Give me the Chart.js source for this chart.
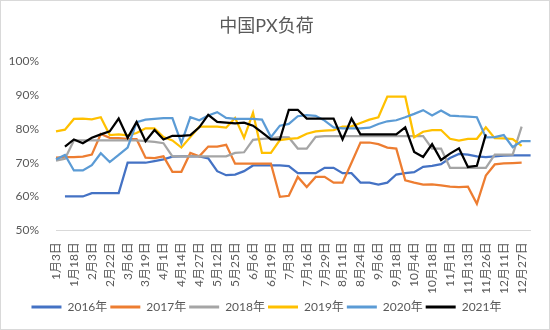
<!DOCTYPE html>
<html>
<head>
<meta charset="utf-8">
<script src="https://cdn.jsdelivr.net/npm/chart.js@4.4.0/dist/chart.umd.min.js"></script>
<style>
  body { margin: 0; background: #fff; }
  #wrap { width: 550px; height: 330px; box-sizing: border-box; border: 1px solid #d9d9d9; }
</style>
</head>
<body>
<div id="wrap"><canvas id="px-chart"></canvas></div>
<script>
// tick labels shown under the axis, one for every second week
var dateLabels = ['1月3日', '1月18日', '2月3日', '2月22日', '3月6日', '3月19日', '4月1日', '4月14日', '4月27日',
  '5月12日', '5月25日', '6月6日', '6月19日', '7月3日', '7月16日', '7月29日', '8月11日', '8月24日',
  '9月6日', '9月18日', '10月4日', '10月18日', '11月1日', '11月13日', '11月26日', '12月11日', '12月27日'];
var weekCount = 54;

var years = ['2016年', '2017年', '2018年', '2019年', '2020年', '2021年'];
var yearColors = ['#4472C4', '#ED7D31', '#A5A5A5', '#FFC000', '#5B9BD5', '#000000'];

// weekly PX load, % (2016 and 2021 start one week later)
var load2016 = [null, 60, 60, 60, 61, 61, 61, 61, 70, 70, 70, 70.5, 71, 71.8, 71.9, 71.9, 71.9, 71.3, 67.5, 66.3, 66.5,
  67.5, 69.2, 69.2, 69.2, 69.2, 69, 66.9, 66.9, 66.9, 68.5, 68.5, 66.9, 66.9, 64.1, 64.1, 63.5, 64.1, 66.5, 66.9, 67.2,
  68.8, 69.1, 69.6, 71.4, 72.6, 72.4, 71.9, 71.7, 71.9, 72.1, 72.2, 72.2, 72.2];
var load2017 = [71.5, 71.7, 71.7, 71.8, 72.4, 78.5, 77.4, 77.3, 77.1, 77, 71.5, 71.4, 71.9, 67.3, 67.3, 72.9, 71.9,
  74.8, 74.8, 75.3, 69.7, 69.7, 69.7, 69.7, 69.7, 59.9, 60.2, 65.8, 62.8, 65.8, 65.8, 64.1, 64.1, 70, 76, 76, 75.5,
  74.5, 74.2, 64.8, 64.1, 63.5, 63.6, 63.3, 62.9, 62.8, 62.9, 57.8, 66.2, 69.5, 69.8, 69.9, 70];
var load2018 = [70.6, 71.2, 76.6, 76.6, 76.6, 76.6, 76.6, 76.6, 76.6, 76.6, 76.4, 76.2, 75.8, 71.9, 71.9, 71.9, 71.9,
  71.9, 71.9, 71.9, 72.9, 73.1, 76.8, 77.1, 77.3, 77.6, 77.5, 74.2, 74.2, 77.7, 77.9, 77.9, 77.9, 77.9, 77.9, 77.9,
  77.9, 77.9, 77.9, 77.9, 77.9, 77.9, 74.2, 74.2, 68.5, 68.5, 68.5, 68.5, 68.5, 72.4, 72.4, 72.4, 80.7];
var load2019 = [79.3, 79.8, 83, 83.1, 82.9, 83.5, 78.2, 78.4, 78.1, 78.8, 80.2, 80.2, 77.6, 76.6, 74.5, 77.6, 80.7,
  80.7, 80.7, 80.4, 83.3, 77.4, 84.8, 72.9, 72.9, 76.7, 77.1, 77.3, 78.6, 79.3, 79.5, 79.7, 80.7, 80.8, 81.8, 82.8,
  83.5, 89.6, 89.6, 89.6, 77.6, 79.2, 79.7, 79.7, 77.1, 76.6, 77.1, 77.1, 80.5, 77.3, 77.2, 77, 75];
var load2020 = [71, 72.3, 67.7, 67.7, 69.3, 72.8, 70.2, 72.3, 74.5, 82, 82.8, 83, 83.2, 83.2, 75.8, 83.5, 82.6, 84,
  85, 83.3, 83, 83, 83, 82.8, 77.6, 81, 81.5, 83.8, 84.1, 83.9, 82.5, 80.5, 80.2, 80.2, 80.2, 80.4, 81.5, 82.3, 82.6,
  83.5, 84.5, 85.6, 84, 85.5, 84, 83.8, 83.7, 83.5, 77.5, 77.6, 78.2, 74.6, 76.4, 76.4];
var load2021 = [null, 74.8, 76.9, 75.8, 77.4, 78.4, 79.3, 83.1, 77.4, 82.1, 76.4, 79.7, 76.9, 78, 78, 78.2, 80.5,
  84.2, 82.1, 81.9, 81.7, 81.9, 81, 79, 76.9, 76.9, 85.7, 85.7, 83.1, 83.1, 83.1, 83.1, 76.9, 83.1, 78.4, 78.4, 78.4,
  78.4, 78.4, 80.5, 73.2, 71.7, 75.5, 70.8, 72.7, 74.3, 68.75, 69.1, 78.4];

var yAxisMin = 50;
var yAxisMax = 100;
var yAxisStep = 10;

// every week is a category, only the even ones carry a date
var weekLabels = [];
for (var i = 0; i < weekCount; i++) {
  weekLabels.push(i % 2 === 0 && dateLabels[i / 2] ? dateLabels[i / 2] : '');
}

var seriesData = [load2016, load2017, load2018, load2019, load2020, load2021];
var datasets = years.map(function (year, i) {
  return {
    label: year,
    data: seriesData[i],
    borderColor: yearColors[i],
    backgroundColor: yearColors[i],
    borderWidth: 2.25,
    pointRadius: 0,
    tension: 0,
    // later years are drawn on top, like the original
    order: years.length - i
  };
});

var fontFamily = 'Lato, "Noto Sans CJK SC", sans-serif';
var textColor = '#595959';

var ctx = document.getElementById('px-chart');
var myChart = new Chart(ctx, {
  type: 'line',
  data: {
    labels: weekLabels,
    datasets: datasets
  },
  options: {
    responsive: true,
    maintainAspectRatio: false,
    animation: false,
    layout: { padding: { left: 0, right: 17, top: 0, bottom: 6 } },
    plugins: {
      title: {
        display: true,
        text: '中国PX负荷',
        color: textColor,
        font: { family: fontFamily, size: 18, weight: 'normal' },
        padding: { top: 14, bottom: 25 }
      },
      legend: {
        position: 'bottom',
        labels: {
          color: textColor,
          font: { family: fontFamily, size: 12 },
          boxWidth: 30,
          boxHeight: 3,
          padding: 3,
          sort: function (a, b) { return a.datasetIndex - b.datasetIndex; },
          generateLabels: function (chart) {
            var items = Chart.defaults.plugins.legend.labels.generateLabels(chart);
            items.forEach(function (item) { item.lineWidth = 0; });
            return items;
          }
        }
      },
      tooltip: { enabled: false }
    },
    scales: {
      x: {
        offset: false,
        grid: { display: false },
        border: { display: true, color: '#d9d9d9', width: 1 },
        ticks: {
          color: textColor,
          font: { family: fontFamily, size: 12 },
          autoSkip: false,
          maxRotation: 90,
          minRotation: 90,
          padding: 4
        }
      },
      y: {
        min: yAxisMin,
        max: yAxisMax,
        grid: { display: false },
        border: { display: false },
        afterFit: function (scale) { scale.width = 55; },
        ticks: {
          stepSize: yAxisStep,
          color: textColor,
          font: { family: fontFamily, size: 12 },
          padding: 9,
          callback: function (value) { return value + '%'; }
        }
      }
    }
  }
});
</script>
</body>
</html>
